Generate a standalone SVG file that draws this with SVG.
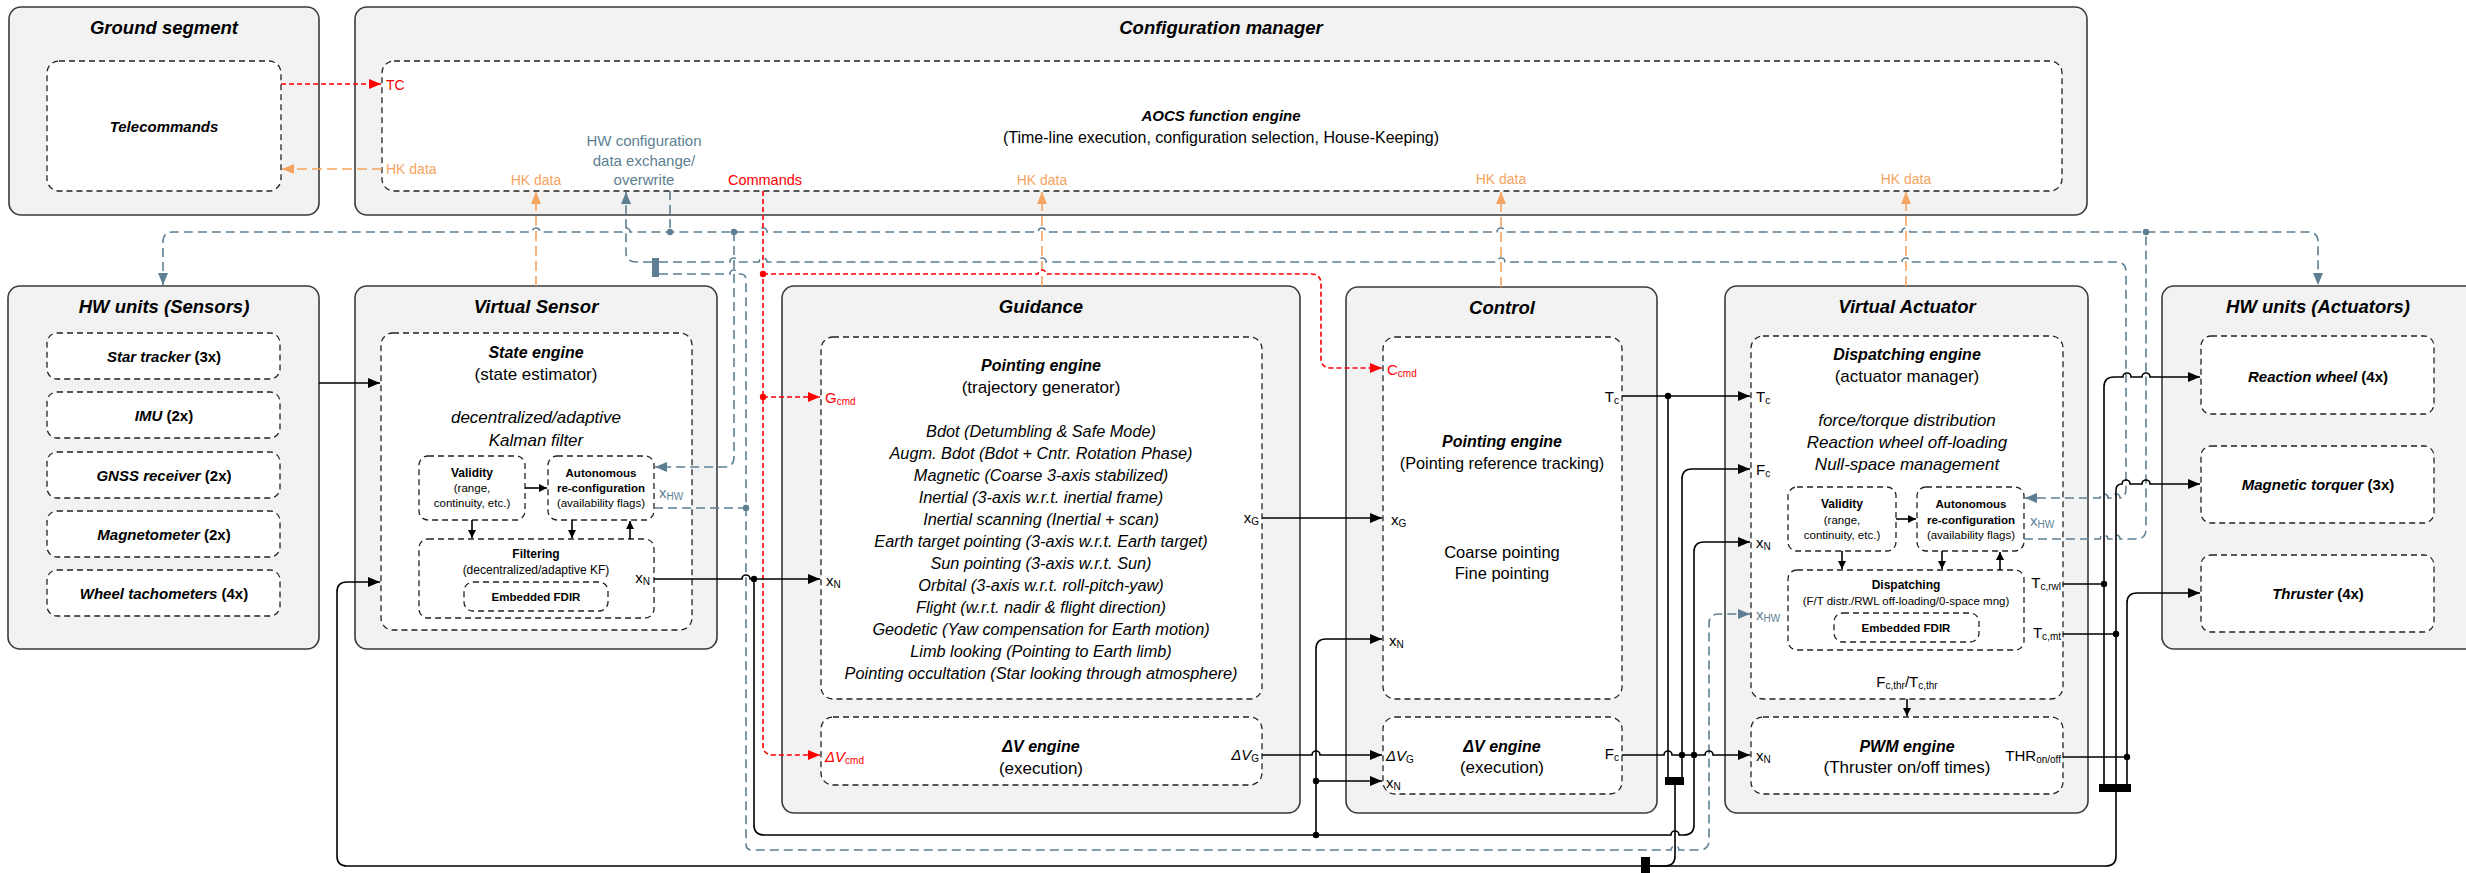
<svg xmlns="http://www.w3.org/2000/svg" width="2466" height="873" viewBox="0 0 2466 873">
<style>
  text { font-family: "Liberation Sans", Arial, sans-serif; dominant-baseline: central; fill: #000; }
  .blk { fill: #F2F2F2; stroke: #3a3a3a; stroke-width: 1.6; }
  .eng { fill: #fff; stroke: #222; stroke-width: 1.3; stroke-dasharray: 6 4; }
  .box { fill: #fff; stroke: #222; stroke-width: 1.3; stroke-dasharray: 6 4; }
  .wire { fill: none; stroke: #000; stroke-width: 1.6; }
  .cfg { fill: none; stroke: #5E7F93; stroke-width: 1.6; stroke-dasharray: 9 5; }
  .hk { fill: none; stroke: #F4A460; stroke-width: 1.6; stroke-dasharray: 10 5; }
  .cmd { fill: none; stroke: #FF0000; stroke-width: 1.6; stroke-dasharray: 5 3; }
  .dot { fill: #000; }
  .dotb { fill: #5E7F93; }
  .dotr { fill: #FF0000; }
  .bar { fill: #000; }
  .title { font-size: 18.5px; font-weight: bold; font-style: italic; text-anchor: middle; }
  .ename { font-size: 16px; font-weight: bold; font-style: italic; text-anchor: middle; }
  .edesc { font-size: 17px; text-anchor: middle; }
  .ital { font-size: 17px; font-style: italic; text-anchor: middle; }
  .list { font-size: 16.3px; font-style: italic; text-anchor: middle; }
  .unit { font-size: 15px; font-weight: bold; text-anchor: middle; }
  .unit tspan.n { font-style: italic; }
  .sb { font-size: 12px; font-weight: bold; text-anchor: middle; }
  .sr { font-size: 11.5px; text-anchor: middle; }
  .lbl { font-size: 15px; }
  .s { font-size: 10px; }
  .end { text-anchor: end; }
  .mid { text-anchor: middle; }
  .blue { fill: #5E7F93; }
  .red { fill: #FF0000; }
  .orange { fill: #F4A460; }
  .hkl { font-size: 14px; fill: #F4A460; text-anchor: middle; }
</style>
<defs>
  <marker id="ak" viewBox="0 0 12 10" refX="12" refY="5" markerWidth="12" markerHeight="10" orient="auto-start-reverse" markerUnits="userSpaceOnUse"><path d="M0,0 L12,5 L0,10 z" fill="#000"/></marker>
  <marker id="aks" viewBox="0 0 8 8" refX="8" refY="4" markerWidth="8" markerHeight="8" orient="auto" markerUnits="userSpaceOnUse"><path d="M0,0 L8,4 L0,8 z" fill="#000"/></marker>
  <marker id="ab" viewBox="0 0 12 10" refX="12" refY="5" markerWidth="12" markerHeight="10" orient="auto-start-reverse" markerUnits="userSpaceOnUse"><path d="M0,0 L12,5 L0,10 z" fill="#5E7F93"/></marker>
  <marker id="ar" viewBox="0 0 12 10" refX="12" refY="5" markerWidth="12" markerHeight="10" orient="auto" markerUnits="userSpaceOnUse"><path d="M0,0 L12,5 L0,10 z" fill="#FF0000"/></marker>
  <marker id="ao" viewBox="0 0 12 10" refX="12" refY="5" markerWidth="12" markerHeight="10" orient="auto" markerUnits="userSpaceOnUse"><path d="M0,0 L12,5 L0,10 z" fill="#F4A460"/></marker>
</defs>

<!-- Ground segment -->
<g id="ground-segment">
  <rect class="blk" x="9" y="7" width="310" height="208" rx="12"/>
  <text class="title" x="164" y="27">Ground segment</text>
  <rect class="box" x="47" y="61" width="234" height="130" rx="12"/>
  <text class="title" style="font-size:15px" x="164" y="126">Telecommands</text>
</g>

<!-- Configuration manager -->
<g id="configuration-manager">
  <rect class="blk" x="355" y="7" width="1732" height="208" rx="12"/>
  <text class="title" x="1221" y="27">Configuration manager</text>
  <rect class="box" x="382" y="61" width="1680" height="130" rx="12"/>
  <text class="ename" style="font-size:15px" x="1221" y="115">AOCS function engine</text>
  <text class="edesc" style="font-size:16px" x="1221" y="137">(Time-line execution, configuration selection, House-Keeping)</text>
  <text class="lbl red" style="font-size:14px" x="386" y="85">TC</text>
  <text class="lbl orange" style="font-size:14px" x="386" y="169">HK data</text>
  <text class="hkl" x="536" y="180">HK data</text>
  <text class="hkl" x="1042" y="180">HK data</text>
  <text class="hkl" x="1501" y="179">HK data</text>
  <text class="hkl" x="1906" y="179">HK data</text>
  <text class="lbl blue mid" x="644" y="140">HW configuration</text>
  <text class="lbl blue mid" x="644" y="160">data exchange/</text>
  <text class="lbl blue mid" x="644" y="179">overwrite</text>
  <text class="lbl red mid" style="font-size:14.5px" x="765" y="180">Commands</text>
</g>

<!-- HW units (Sensors) -->
<g id="hw-sensors">
  <rect class="blk" x="8" y="286" width="311" height="363" rx="12"/>
  <text class="title" x="164" y="306">HW units (Sensors)</text>
  <rect class="box" x="47" y="333" width="233" height="46" rx="10"/>
  <text class="unit" x="164" y="356"><tspan class="n">Star tracker</tspan> (3x)</text>
  <rect class="box" x="47" y="392" width="233" height="46" rx="10"/>
  <text class="unit" x="164" y="415"><tspan class="n">IMU</tspan> (2x)</text>
  <rect class="box" x="47" y="452" width="233" height="46" rx="10"/>
  <text class="unit" x="164" y="475"><tspan class="n">GNSS receiver</tspan> (2x)</text>
  <rect class="box" x="47" y="511" width="233" height="46" rx="10"/>
  <text class="unit" x="164" y="534"><tspan class="n">Magnetometer</tspan> (2x)</text>
  <rect class="box" x="47" y="570" width="233" height="46" rx="10"/>
  <text class="unit" x="164" y="593"><tspan class="n">Wheel tachometers</tspan> (4x)</text>
</g>

<!-- Virtual Sensor -->
<g id="virtual-sensor">
  <rect class="blk" x="355" y="286" width="362" height="363" rx="12"/>
  <text class="title" x="536" y="306">Virtual Sensor</text>
  <rect class="eng" x="381" y="333" width="311" height="297" rx="12"/>
  <text class="ename" x="536" y="352">State engine</text>
  <text class="edesc" x="536" y="374">(state estimator)</text>
  <text class="ital" x="536" y="417">decentralized/adaptive</text>
  <text class="ital" x="536" y="440">Kalman filter</text>
  <rect class="box" x="419" y="456" width="106" height="64" rx="9"/>
  <text class="sb" x="472" y="473">Validity</text>
  <text class="sr" x="472" y="488">(range,</text>
  <text class="sr" x="472" y="503">continuity, etc.)</text>
  <rect class="box" x="548" y="456" width="106" height="64" rx="9"/>
  <text class="sb" style="font-size:11.5px" x="601" y="473">Autonomous</text>
  <text class="sb" style="font-size:11.5px" x="601" y="488">re-configuration</text>
  <text class="sr" x="601" y="503">(availability flags)</text>
  <rect class="box" x="419" y="539" width="235" height="79" rx="9"/>
  <text class="sb" x="536" y="554">Filtering</text>
  <text class="sr" style="font-size:12px" x="536" y="570">(decentralized/adaptive KF)</text>
  <rect class="box" x="464" y="582" width="144" height="29" rx="9"/>
  <text class="sb" style="font-size:11.5px" x="536" y="597">Embedded FDIR</text>
  <text class="lbl end" x="650" y="577">x<tspan class="s" dy="4">N</tspan></text>
  <text class="lbl blue" x="659" y="492">x<tspan class="s" dy="4">HW</tspan></text>
  <path class="wire" d="M525,488 H547" marker-end="url(#aks)"/>
  <path class="wire" d="M472,520 V538" marker-end="url(#aks)"/>
  <path class="wire" d="M572,520 V538" marker-end="url(#aks)"/>
  <path class="wire" d="M630,539 V521" marker-end="url(#aks)"/>
</g>

<!-- Guidance -->
<g id="guidance">
  <rect class="blk" x="782" y="286" width="518" height="527" rx="12"/>
  <text class="title" x="1041" y="306">Guidance</text>
  <rect class="eng" x="821" y="337" width="441" height="362" rx="12"/>
  <text class="ename" x="1041" y="365">Pointing engine</text>
  <text class="edesc" x="1041" y="387">(trajectory generator)</text>
  <text class="list" x="1041" y="431">Bdot (Detumbling &amp; Safe Mode)</text>
  <text class="list" x="1041" y="453">Augm. Bdot (Bdot + Cntr. Rotation Phase)</text>
  <text class="list" x="1041" y="475">Magnetic (Coarse 3-axis stabilized)</text>
  <text class="list" x="1041" y="497">Inertial (3-axis w.r.t. inertial frame)</text>
  <text class="list" x="1041" y="519">Inertial scanning (Inertial + scan)</text>
  <text class="list" x="1041" y="541">Earth target pointing (3-axis w.r.t. Earth target)</text>
  <text class="list" x="1041" y="563">Sun pointing (3-axis w.r.t. Sun)</text>
  <text class="list" x="1041" y="585">Orbital (3-axis w.r.t. roll-pitch-yaw)</text>
  <text class="list" x="1041" y="607">Flight (w.r.t. nadir &amp; flight direction)</text>
  <text class="list" x="1041" y="629">Geodetic (Yaw compensation for Earth motion)</text>
  <text class="list" x="1041" y="651">Limb looking (Pointing to Earth limb)</text>
  <text class="list" x="1041" y="673">Pointing occultation (Star looking through atmosphere)</text>
  <text class="lbl red" x="825" y="397">G<tspan class="s" dy="4">cmd</tspan></text>
  <text class="lbl" x="826" y="580">x<tspan class="s" dy="4">N</tspan></text>
  <text class="lbl end" x="1259" y="517">x<tspan class="s" dy="4">G</tspan></text>
  <rect class="eng" x="821" y="717" width="441" height="68" rx="12"/>
  <text class="ename" x="1041" y="746">ΔV engine</text>
  <text class="edesc" x="1041" y="768">(execution)</text>
  <text class="lbl red" x="825" y="756"><tspan font-style="italic">ΔV</tspan><tspan class="s" dy="4">cmd</tspan></text>
  <text class="lbl end" x="1259" y="754"><tspan font-style="italic">ΔV</tspan><tspan class="s" dy="4">G</tspan></text>
</g>

<!-- Control -->
<g id="control">
  <rect class="blk" x="1346" y="287" width="311" height="526" rx="12"/>
  <text class="title" x="1502" y="307">Control</text>
  <rect class="eng" x="1383" y="337" width="239" height="362" rx="12"/>
  <text class="lbl red" x="1387" y="369">C<tspan class="s" dy="4">cmd</tspan></text>
  <text class="lbl end" x="1619" y="396">T<tspan class="s" dy="4">c</tspan></text>
  <text class="ename" x="1502" y="441">Pointing engine</text>
  <text class="edesc" style="font-size:16.3px" x="1502" y="463">(Pointing reference tracking)</text>
  <text class="lbl" x="1391" y="519">x<tspan class="s" dy="4">G</tspan></text>
  <text class="edesc" style="font-size:16.5px" x="1502" y="552">Coarse pointing</text>
  <text class="edesc" style="font-size:16.5px" x="1502" y="573">Fine pointing</text>
  <text class="lbl" x="1389" y="640">x<tspan class="s" dy="4">N</tspan></text>
  <rect class="eng" x="1383" y="717" width="239" height="77" rx="12"/>
  <text class="ename" x="1502" y="746">ΔV engine</text>
  <text class="edesc" x="1502" y="767">(execution)</text>
  <text class="lbl" x="1386" y="755"><tspan font-style="italic">ΔV</tspan><tspan class="s" dy="4">G</tspan></text>
  <text class="lbl" x="1386" y="782">x<tspan class="s" dy="4">N</tspan></text>
  <text class="lbl end" x="1619" y="753">F<tspan class="s" dy="4">c</tspan></text>
</g>

<!-- Virtual Actuator -->
<g id="virtual-actuator">
  <rect class="blk" x="1725" y="286" width="363" height="527" rx="12"/>
  <text class="title" x="1907" y="306">Virtual Actuator</text>
  <rect class="eng" x="1751" y="336" width="312" height="363" rx="12"/>
  <text class="ename" x="1907" y="354">Dispatching engine</text>
  <text class="edesc" x="1907" y="376">(actuator manager)</text>
  <text class="ital" x="1907" y="420">force/torque distribution</text>
  <text class="ital" x="1907" y="442">Reaction wheel off-loading</text>
  <text class="ital" x="1907" y="464">Null-space management</text>
  <rect class="box" x="1788" y="487" width="108" height="64" rx="9"/>
  <text class="sb" x="1842" y="504">Validity</text>
  <text class="sr" x="1842" y="520">(range,</text>
  <text class="sr" x="1842" y="535">continuity, etc.)</text>
  <rect class="box" x="1917" y="487" width="107" height="64" rx="9"/>
  <text class="sb" style="font-size:11.5px" x="1971" y="504">Autonomous</text>
  <text class="sb" style="font-size:11.5px" x="1971" y="520">re-configuration</text>
  <text class="sr" x="1971" y="535">(availability flags)</text>
  <rect class="box" x="1788" y="570" width="236" height="80" rx="9"/>
  <text class="sb" x="1906" y="585">Dispatching</text>
  <text class="sr" x="1906" y="601">(F/T distr./RWL off-loading/0-space mng)</text>
  <rect class="box" x="1834" y="613" width="145" height="29" rx="9"/>
  <text class="sb" style="font-size:11.5px" x="1906" y="628">Embedded FDIR</text>
  <path class="wire" d="M1896,519 H1916" marker-end="url(#aks)"/>
  <path class="wire" d="M1842,551 V569" marker-end="url(#aks)"/>
  <path class="wire" d="M1942,551 V569" marker-end="url(#aks)"/>
  <path class="wire" d="M2000,570 V552" marker-end="url(#aks)"/>
  <text class="lbl" x="1756" y="396">T<tspan class="s" dy="4">c</tspan></text>
  <text class="lbl" x="1756" y="469">F<tspan class="s" dy="4">c</tspan></text>
  <text class="lbl" x="1756" y="542">x<tspan class="s" dy="4">N</tspan></text>
  <text class="lbl blue" x="1756" y="614">x<tspan class="s" dy="4">HW</tspan></text>
  <text class="lbl blue" x="2030" y="520">x<tspan class="s" dy="4">HW</tspan></text>
  <text class="lbl end" x="2061" y="582">T<tspan class="s" dy="4">c,rwl</tspan></text>
  <text class="lbl end" x="2061" y="632">T<tspan class="s" dy="4">c,mt</tspan></text>
  <text class="lbl mid" x="1907" y="681">F<tspan class="s" dy="4">c,thr</tspan><tspan dy="-4">/T</tspan><tspan class="s" dy="4">c,thr</tspan></text>
  <path class="wire" d="M1907,699 V716" marker-end="url(#aks)"/>
  <rect class="eng" x="1751" y="717" width="312" height="77" rx="12"/>
  <text class="ename" x="1907" y="746">PWM engine</text>
  <text class="edesc" x="1907" y="767">(Thruster on/off times)</text>
  <text class="lbl" x="1756" y="755">x<tspan class="s" dy="4">N</tspan></text>
  <text class="lbl end" x="2061" y="755">THR<tspan class="s" dy="4">on/off</tspan></text>
</g>

<!-- HW units (Actuators) -->
<g id="hw-actuators">
  <rect class="blk" x="2162" y="286" width="320" height="363" rx="12"/>
  <text class="title" x="2318" y="306">HW units (Actuators)</text>
  <rect class="box" x="2201" y="336" width="233" height="78" rx="10"/>
  <text class="unit" x="2318" y="376"><tspan class="n">Reaction wheel</tspan> (4x)</text>
  <rect class="box" x="2201" y="446" width="233" height="77" rx="10"/>
  <text class="unit" x="2318" y="484"><tspan class="n">Magnetic torquer</tspan> (3x)</text>
  <rect class="box" x="2201" y="555" width="233" height="77" rx="10"/>
  <text class="unit" x="2318" y="593"><tspan class="n">Thruster</tspan> (4x)</text>
</g>

<!-- Connectors -->
<g id="connectors">
  <!-- telecommand / housekeeping with ground -->
  <path class="cmd" d="M281,84 H381" marker-end="url(#ar)"/>
  <path class="hk" d="M382,169 H282" marker-end="url(#ao)"/>

  <!-- housekeeping data up to the function engine -->
  <path class="hk" d="M536,286 V192" marker-end="url(#ao)"/>
  <path class="hk" d="M1042,286 V192" marker-end="url(#ao)"/>
  <path class="hk" d="M1501,287 V192" marker-end="url(#ao)"/>
  <path class="hk" d="M1906,286 V192" marker-end="url(#ao)"/>

  <!-- HW configuration bus -->
  <path class="cfg" d="M163,285 V242 Q163,232 173,232 H532 A4,4 0 0 1 540,232 H622 A4,4 0 0 1 630,232 H759 A4,4 0 0 1 767,232 H1038 A4,4 0 0 1 1046,232 H1497 A4,4 0 0 1 1505,232 H1902 A4,4 0 0 1 1910,232 H2308 Q2318,232 2318,242 V285" marker-start="url(#ab)" marker-end="url(#ab)"/>
  <path class="cfg" d="M670,191 V232"/>
  <path class="cfg" d="M652,262 H636 Q626,262 626,252 V192" marker-end="url(#ab)"/>
  <rect x="652" y="258" width="7" height="19" fill="#5E7F93"/>
  <path class="cfg" d="M659,262 H730 A4,4 0 0 1 738,262 H759 A4,4 0 0 1 767,262 H1038 A4,4 0 0 1 1046,262 H1497 A4,4 0 0 1 1505,262 H1902 A4,4 0 0 1 1910,262 H2116 Q2126,262 2126,272 V488 Q2126,498 2120,498 A4,4 0 0 0 2112,498 H2108 A4,4 0 0 0 2100,498 H2025" marker-end="url(#ab)"/>
  <path class="cfg" d="M2024,539 H2100 A4,4 0 0 1 2108,539 H2112 A4,4 0 0 1 2120,539 H2136 Q2146,539 2146,529 V232"/>
  <path class="cfg" d="M734,232 V457 Q734,467 724,467 H655" marker-end="url(#ab)"/>
  <path class="cfg" d="M654,508 H746"/>
  <path class="cfg" d="M659,274 H730 A4,4 0 0 1 738,274 H740 Q746,274 746,280 V844 Q746,850 752,850 H1671 A4,4 0 0 1 1679,850 H1699 Q1709,850 1709,840 V624 Q1709,614 1719,614 H1750" marker-end="url(#ab)"/>
  <circle class="dotb" cx="670" cy="232" r="3.2"/>
  <circle class="dotb" cx="734" cy="232" r="3.2"/>
  <circle class="dotb" cx="2146" cy="232" r="3.2"/>
  <circle class="dotb" cx="746" cy="508" r="3.2"/>

  <!-- commands -->
  <path class="cmd" d="M763,191 V745 Q763,755 773,755 H820" marker-end="url(#ar)"/>
  <path class="cmd" d="M763,274 H1038 A4,4 0 0 1 1046,274 H1311 Q1321,274 1321,284 V358 Q1321,368 1331,368 H1382" marker-end="url(#ar)"/>
  <path class="cmd" d="M763,397 H820" marker-end="url(#ar)"/>
  <circle class="dotr" cx="763" cy="274" r="3.2"/>
  <circle class="dotr" cx="763" cy="397" r="3.2"/>

  <!-- sensor data and navigation state -->
  <path class="wire" d="M319,383 H380" marker-end="url(#ak)"/>
  <path class="wire" d="M1641,866 H347 Q337,866 337,856 V592 Q337,582 347,582 H380" marker-end="url(#ak)"/>
  <path class="wire" d="M654,579 H742 A4,4 0 0 1 750,579 H820" marker-end="url(#ak)"/>
  <path class="wire" d="M754,579 V825 Q754,835 764,835 H1671 A4,4 0 0 1 1679,835 H1684 Q1694,835 1694,825 V552 Q1694,542 1704,542 H1750" marker-end="url(#ak)"/>
  <circle class="dot" cx="754" cy="579" r="3.2"/>
  <circle class="dot" cx="1316" cy="835" r="3.2"/>
  <path class="wire" d="M1316,835 V649 Q1316,639 1326,639 H1382" marker-end="url(#ak)"/>
  <path class="wire" d="M1316,781 H1382" marker-end="url(#ak)"/>
  <circle class="dot" cx="1316" cy="781" r="3.2"/>

  <!-- guidance to control -->
  <path class="wire" d="M1262,518 H1382" marker-end="url(#ak)"/>
  <path class="wire" d="M1262,755 H1312 A4,4 0 0 1 1320,755 H1382" marker-end="url(#ak)"/>

  <!-- control to virtual actuator -->
  <path class="wire" d="M1622,396 H1750" marker-end="url(#ak)"/>
  <circle class="dot" cx="1668" cy="396" r="3.2"/>
  <path class="wire" d="M1668,396 V777"/>
  <path class="wire" d="M1622,755 H1664 A4,4 0 0 1 1672,755 H1694"/>
  <circle class="dot" cx="1682" cy="755" r="3.2"/>
  <path class="wire" d="M1682,777 V479 Q1682,469 1692,469 H1750" marker-end="url(#ak)"/>
  <path class="wire" d="M1694,755 H1705 A4,4 0 0 1 1713,755 H1750" marker-end="url(#ak)"/>
  <circle class="dot" cx="1694" cy="755" r="3.2"/>
  <rect class="bar" x="1665" y="777" width="19" height="8"/>
  <path class="wire" d="M1675,785 V856 Q1675,866 1665,866 H1649"/>

  <!-- virtual actuator to HW actuators -->
  <path class="wire" d="M2063,584 H2104"/>
  <path class="wire" d="M2063,634 H2116"/>
  <path class="wire" d="M2063,757 H2127"/>
  <circle class="dot" cx="2104" cy="584" r="3.2"/>
  <circle class="dot" cx="2116" cy="634" r="3.2"/>
  <circle class="dot" cx="2127" cy="757" r="3.2"/>
  <path class="wire" d="M2104,784 V387 Q2104,377 2114,377 H2123 A4,4 0 0 1 2131,377 H2142 A4,4 0 0 1 2150,377 H2200" marker-end="url(#ak)"/>
  <path class="wire" d="M2116,784 V490 Q2116,484 2122,484 A4,4 0 0 1 2130,484 H2142 A4,4 0 0 1 2150,484 H2200" marker-end="url(#ak)"/>
  <path class="wire" d="M2127,784 V603 Q2127,593 2137,593 H2200" marker-end="url(#ak)"/>
  <rect class="bar" x="2099" y="784" width="32" height="8"/>
  <path class="wire" d="M2116,792 V856 Q2116,866 2106,866 H1649"/>
  <rect class="bar" x="1641" y="857" width="9" height="17"/>
</g>
</svg>
